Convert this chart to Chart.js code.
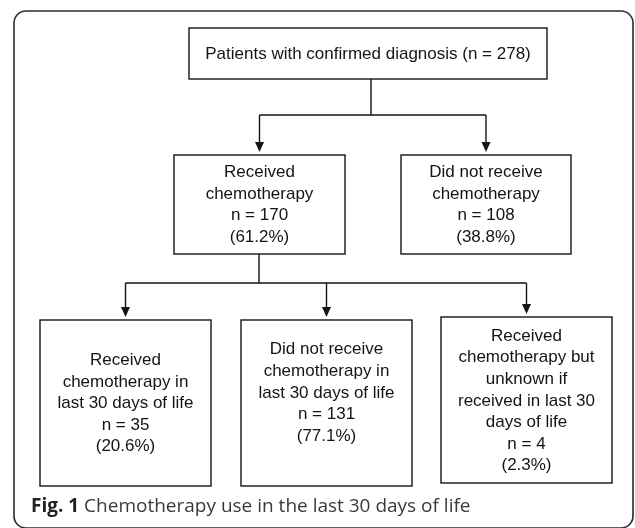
<!DOCTYPE html>
<html>
<head>
<meta charset="utf-8">
<script src="https://cdn.jsdelivr.net/npm/chart.js@4.4.1/dist/chart.umd.min.js"></script>
<style>
  html, body { margin: 0; padding: 0; background: #fff; }
  #wrap { width: 635px; height: 528px; }
</style>
</head>
<body>
<div id="wrap"><canvas id="flowChart" width="635" height="528"></canvas></div>
<script>
// Flowchart data
const boxTitles = [
    'Patients with confirmed diagnosis',
    'Received\nchemotherapy',
    'Did not receive\nchemotherapy',
    'Received\nchemotherapy in\nlast 30 days of life',
    'Did not receive\nchemotherapy in\nlast 30 days of life',
    'Received\nchemotherapy but\nunknown if\nreceived in last 30\ndays of life'
];
const patientCounts = [278, 170, 108, 35, 131, 4];
const patientShares = [null, 61.2, 38.8, 20.6, 77.1, 2.3];
const parentBox = [null, 0, 0, 1, 1, 1];
const captionLabel = 'Fig. 1';
const captionText = 'Chemotherapy use in the last 30 days of life';

// Layout (in scale units, 1 unit = 1 px)
const boxLayout = [
    { x0: 189, x1: 547, y0: 28, y1: 79, textY: 54, stemX: 371 },
    { x0: 174, x1: 345, y0: 155, y1: 254, textY: 205, stemX: 259 },
    { x0: 401, x1: 571, y0: 155, y1: 254, textY: 205 },
    { x0: 40, x1: 211, y0: 320, y1: 486, textY: 403.5 },
    { x0: 241, x1: 412, y0: 320, y1: 486, textY: 393 },
    { x0: 441, x1: 612, y0: 317, y1: 483, textY: 401 }
];
const busY = { 0: 115, 1: 283 };
const lineHeight = 21.6;

function boxLines(i) {
    if (patientShares[i] === null) {
        return [boxTitles[i] + ' (n = ' + patientCounts[i] + ')'];
    }
    return boxTitles[i].split('\n').concat([
        'n = ' + patientCounts[i],
        '(' + patientShares[i].toFixed(1) + '%)'
    ]);
}

const flowPlugin = {
    id: 'flow',
    afterDraw(chart) {
        const ctx = chart.ctx;
        const xs = chart.scales.x;
        const ys = chart.scales.y;
        const px = v => xs.getPixelForValue(v);
        const py = v => ys.getPixelForValue(v);

        ctx.save();

        // outer frame
        ctx.strokeStyle = '#2b2b2b';
        ctx.lineWidth = 1.6;
        ctx.beginPath();
        ctx.roundRect(px(14), py(11), px(633) - px(14), py(528) - py(11), 12);
        ctx.stroke();

        // boxes
        ctx.strokeStyle = '#141414';
        ctx.lineWidth = 1.4;
        boxLayout.forEach(b => {
            ctx.strokeRect(px(b.x0), py(b.y0), px(b.x1) - px(b.x0), py(b.y1) - py(b.y0));
        });

        // connectors
        ctx.fillStyle = '#141414';
        Object.keys(busY).forEach(key => {
            const p = Number(key);
            const parent = boxLayout[p];
            const kids = parentBox.map((q, i) => q === p ? i : -1).filter(i => i >= 0);
            const centers = kids.map(i => (boxLayout[i].x0 + boxLayout[i].x1) / 2);
            const pcx = parent.stemX;
            const by = busY[p];

            ctx.beginPath();
            ctx.moveTo(px(pcx), py(parent.y1));
            ctx.lineTo(px(pcx), py(by));
            ctx.moveTo(px(Math.min(...centers)), py(by));
            ctx.lineTo(px(Math.max(...centers)), py(by));
            ctx.stroke();

            kids.forEach((k, j) => {
                const cx = centers[j];
                const tip = boxLayout[k].y0 - 3;
                ctx.beginPath();
                ctx.moveTo(px(cx), py(by));
                ctx.lineTo(px(cx), py(tip - 8));
                ctx.stroke();
                ctx.beginPath();
                ctx.moveTo(px(cx - 4.5), py(tip - 10));
                ctx.lineTo(px(cx + 4.5), py(tip - 10));
                ctx.lineTo(px(cx), py(tip));
                ctx.closePath();
                ctx.fill();
            });
        });

        // box text
        ctx.fillStyle = '#141414';
        ctx.font = '17px "Liberation Sans", Arial, sans-serif';
        ctx.textAlign = 'center';
        ctx.textBaseline = 'middle';
        boxLayout.forEach((b, i) => {
            const lines = boxLines(i);
            const cx = (b.x0 + b.x1) / 2;
            const top = b.textY - (lines.length - 1) * lineHeight / 2;
            lines.forEach((ln, j) => {
                ctx.fillText(ln, px(cx), py(top + j * lineHeight));
            });
        });

        // caption
        ctx.textAlign = 'left';
        ctx.textBaseline = 'alphabetic';
        ctx.font = 'bold 19px "Open Sans", sans-serif';
        ctx.fillStyle = '#222';
        ctx.fillText(captionLabel, px(31), py(512));
        const w = ctx.measureText(captionLabel + ' ').width;
        ctx.font = '19px "Open Sans", sans-serif';
        ctx.fillStyle = '#3a3a3a';
        ctx.fillText(captionText, px(31) + w, py(512));

        ctx.restore();
    }
};

window.addEventListener('load', function() {
    new Chart(document.getElementById('flowChart'), {
        type: 'scatter',
        data: { datasets: [] },
        options: {
            responsive: false,
            animation: false,
            layout: { padding: 0 },
            plugins: { legend: { display: false }, tooltip: { enabled: false } },
            scales: {
                x: { type: 'linear', min: 0, max: 635, display: false },
                y: { type: 'linear', min: 0, max: 528, reverse: true, display: false }
            }
        },
        plugins: [flowPlugin]
    });
});
</script>
</body>
</html>
